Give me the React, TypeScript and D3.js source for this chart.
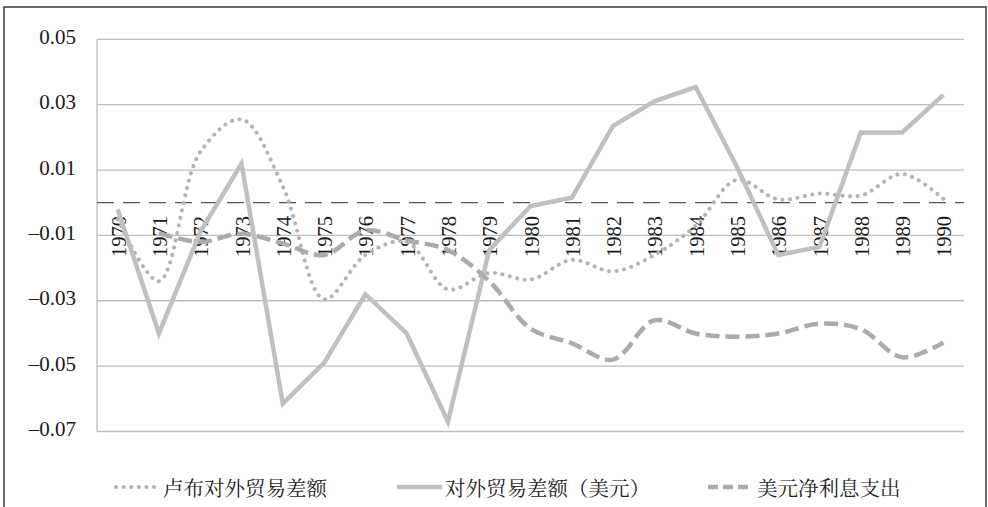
import React from "react";
import * as d3 from "d3";

const years = [1970,1971,1972,1973,1974,1975,1976,1977,1978,1979,1980,1981,1982,1983,1984,1985,1986,1987,1988,1989,1990];
const rubleTrade = [-0.005,-0.024,0.0155,0.0255,0.005,-0.0295,-0.016,-0.012,-0.0265,-0.0215,-0.0235,-0.0175,-0.021,-0.016,-0.007,0.007,0.001,0.0028,0.0022,0.0088,0.0012];
const usdTrade = [-0.002,-0.040,-0.009,0.012,-0.0615,-0.049,-0.028,-0.040,-0.067,-0.0145,-0.001,0.0015,0.0235,0.031,0.0354,0.011,-0.016,-0.0135,0.0215,0.0215,0.033];
const netInterest: (number | null)[] = [null,-0.0093,-0.012,-0.0095,-0.0125,-0.016,-0.0085,-0.0115,-0.0145,-0.024,-0.0385,-0.043,-0.048,-0.036,-0.040,-0.041,-0.040,-0.037,-0.0387,-0.0473,-0.0428];
const yTicks = [0.05,0.03,0.01,-0.01,-0.03,-0.05,-0.07];
const seriesNames = ["卢布对外贸易差额","对外贸易差额（美元）","美元净利息支出"];

const W = 988, H = 507;
const L = 97, R = 964, T = 39.3, B = 431.5;

export default function App() {
  const x = d3.scaleBand<number>().domain(years).range([L, R]).padding(0);
  const cx = (yr: number) => (x(yr) as number) + x.bandwidth() / 2;
  const y = d3.scaleLinear().domain([-0.07, 0.05]).range([B, T]);

  const smooth = d3.line<number | null>()
    .defined(v => v != null)
    .x((_, i) => cx(years[i]))
    .y(v => y(v as number))
    .curve(d3.curveCatmullRom.alpha(0.5));
  const straight = d3.line<number>().x((_, i) => cx(years[i])).y(v => y(v));

  const fmt = (v: number) => (v < 0 ? "–" : "") + Math.abs(v).toFixed(2);
  const serifStyle = { fontFamily: '"Liberation Serif"' };
  const cjkStyle = { fontFamily: '"Noto Serif CJK SC"' };
  const ly = 487;

  return (
    <svg width={W} height={H} style={{ position: "absolute", left: 0, top: 0, background: "#fff" }}>
      <rect x={4} y={7} width={982} height={520} fill="#fff" stroke="#3a3a3a" strokeWidth={1.5} />
      {yTicks.map(t => (
        <line key={t} x1={L} x2={R} y1={y(t)} y2={y(t)} stroke="#bdbdbd" strokeWidth={1.3} />
      ))}
      <line x1={L} x2={L} y1={T} y2={B} stroke="#bdbdbd" strokeWidth={1.3} />
      {yTicks.map(t => (
        <text key={"l" + t} x={76} y={y(t) + 4.5} textAnchor="end" style={serifStyle} fontSize={21} fill="#1a1a1a">{fmt(t)}</text>
      ))}
      <line x1={L} x2={R} y1={y(0)} y2={y(0)} stroke="#555" strokeWidth={1.2} strokeDasharray="17,9" />
      {years.map(yr => (
        <text key={yr} transform={`translate(${cx(yr) + 1},${216}) rotate(-90)`} textAnchor="end" dominantBaseline="central" style={serifStyle} fontSize={20.5} fill="#1a1a1a">{yr}</text>
      ))}
      <path d={smooth(rubleTrade) || ""} fill="none" stroke="#b4b4b6" strokeWidth={4} strokeLinecap="round" strokeDasharray="0.1,7.5" />
      <path d={straight(usdTrade) || ""} fill="none" stroke="#c0c0c2" strokeWidth={4.5} strokeLinejoin="miter" />
      <path d={smooth(netInterest) || ""} fill="none" stroke="#ababad" strokeWidth={4.5} strokeDasharray="14,6" />

      <line x1={116} x2={155} y1={ly} y2={ly} stroke="#b4b4b6" strokeWidth={4} strokeLinecap="round" strokeDasharray="0.1,7.5" />
      <text x={163} y={ly} dominantBaseline="central" style={cjkStyle} fontSize={20.5} fill="#222">{seriesNames[0]}</text>
      <line x1={397} x2={442} y1={ly} y2={ly} stroke="#c0c0c2" strokeWidth={4.5} />
      <text x={445} y={ly} dominantBaseline="central" style={cjkStyle} fontSize={20.5} fill="#222">{seriesNames[1]}</text>
      <line x1={708} x2={752} y1={ly} y2={ly} stroke="#ababad" strokeWidth={4.5} strokeDasharray="10,5" />
      <text x={757} y={ly} dominantBaseline="central" style={cjkStyle} fontSize={20.5} fill="#222">{seriesNames[2]}</text>
    </svg>
  );
}
